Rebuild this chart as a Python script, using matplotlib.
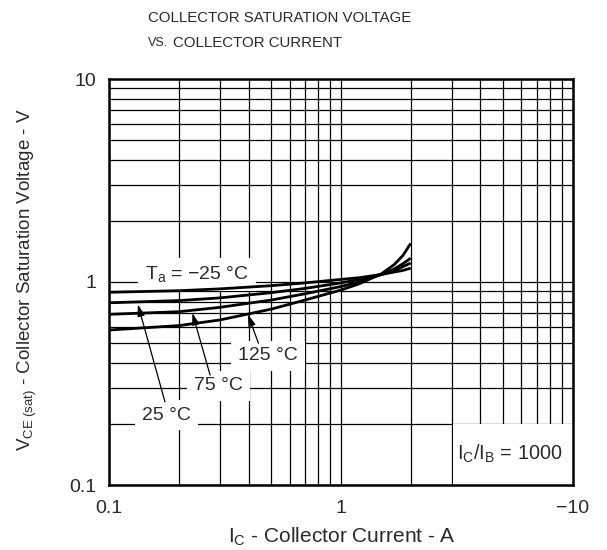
import matplotlib
matplotlib.use("Agg")
import matplotlib.pyplot as plt
from matplotlib.ticker import LogLocator, NullFormatter, FixedLocator
from matplotlib.patches import Rectangle

plt.rcParams['font.family'] = ['Liberation Sans', 'DejaVu Sans']
plt.rcParams['mathtext.fontset'] = 'custom'
plt.rcParams['mathtext.rm'] = 'Liberation Sans'
plt.rcParams['mathtext.it'] = 'Liberation Sans'

# Collector current (A)
ic = [0.1, 0.2, 0.3, 0.5, 0.7, 1.0, 1.2, 1.5, 1.7, 1.85, 2.0]

# VCE(sat) (V) for each ambient temperature
vce_m25 = [0.89, 0.906, 0.925, 0.959, 0.99, 1.03, 1.05, 1.09, 1.12, 1.14, 1.17]
vce_25 = [0.79, 0.81, 0.835, 0.886, 0.93, 0.99, 1.03, 1.09, 1.14, 1.19, 1.24]
vce_75 = [0.693, 0.714, 0.75, 0.815, 0.875, 0.95, 1.00, 1.09, 1.16, 1.23, 1.31]
vce_125 = [0.58, 0.61, 0.65, 0.735, 0.815, 0.913, 0.98, 1.10, 1.22, 1.35, 1.55]

x_ticks = [0.1, 1, 10]
x_ticklabels = ['0.1', '1', '\u221210']
y_ticks = [0.1, 1, 10]
y_ticklabels = ['0.1', '1', '10']

TXT = '#2a2a2a'
W, H = 607, 550
fig = plt.figure(figsize=(W / 100, H / 100), dpi=100)
L, R, T, B = 109.2, 572.7, 79, 485
ax = fig.add_axes([L / W, 1 - B / H, (R - L) / W, (B - T) / H])
ax.set_xscale('log')
ax.set_yscale('log')
ax.set_xlim(0.1, 10)
ax.set_ylim(0.1, 10)

ax.xaxis.set_major_locator(FixedLocator(x_ticks))
ax.set_xticklabels(x_ticklabels)
ax.yaxis.set_major_locator(FixedLocator(y_ticks))
ax.set_yticklabels(y_ticklabels)
for axis in (ax.xaxis, ax.yaxis):
    axis.set_minor_locator(LogLocator(base=10, subs=range(2, 10)))
    axis.set_minor_formatter(NullFormatter())
ax.tick_params(which='both', length=0, labelsize=14, colors=TXT)
ax.tick_params(axis='x', pad=11)
ax.tick_params(axis='y', pad=9)
ax.grid(which='both', color='black', lw=0.9, zorder=1)
ax.set_axisbelow(True)
for s in ax.spines.values():
    s.set_linewidth(1.8)
    s.set_zorder(5)

# Clear area behind the IC/IB note
ax.add_patch(Rectangle((3.04, 0.1), 10 - 3.04, 0.2 - 0.1, facecolor='white',
                       edgecolor='none', zorder=2))

for v in (vce_m25, vce_25, vce_75, vce_125):
    ax.plot(ic, v, color='black', lw=2.0, zorder=4, solid_capstyle='butt')

box = dict(boxstyle='square,pad=0.35', facecolor='white', edgecolor='none')
fs = 14
ax.text(0.2387, 1.091, 'T$_{\\rm a}$ = \u221225 \u00b0C', ha='center', va='center',
        fontsize=fs, bbox=box, zorder=3, color=TXT)
ax.text(0.485, 0.432, '125 \u00b0C', ha='center', va='center', fontsize=fs,
        bbox=box, zorder=3, color=TXT)
ax.text(0.296, 0.308, '75 \u00b0C', ha='center', va='center', fontsize=fs,
        bbox=box, zorder=3, color=TXT)
ax.text(0.177, 0.221, '25 \u00b0C', ha='center', va='center', fontsize=fs,
        bbox=box, zorder=3, color=TXT)
ax.text(5.35, 0.142, 'I$_{\\rm C}$/I$_{\\rm B}$ = 1000', ha='center', va='center',
        fontsize=14.3, zorder=3, color=TXT)

arrow = dict(arrowstyle='-|>,head_length=0.7,head_width=0.22', color='black',
             lw=0.9, shrinkA=0, shrinkB=0)
ax.annotate('', xy=(0.133, 0.775), xytext=(0.174, 0.257), arrowprops=arrow, zorder=4)
ax.annotate('', xy=(0.2286, 0.703), xytext=(0.2725, 0.348), arrowprops=arrow, zorder=4)
ax.annotate('', xy=(0.3966, 0.693), xytext=(0.4406, 0.499), arrowprops=arrow, zorder=4)

# Title
fig.text(148 / W, 1 - 18 / H, 'COLLECTOR SATURATION VOLTAGE', ha='left', va='center',
         fontsize=10.8, color=TXT)
fig.text(148 / W, 1 - 43 / H, 'VS.', ha='left', va='center', fontsize=9,
         color=TXT)
fig.text(173 / W, 1 - 43 / H, 'COLLECTOR CURRENT', ha='left', va='center',
         fontsize=10.8, color=TXT)

fig.text(27 / W, 1 - 280 / H,
         'V$_{\\rm CE\\ (sat)}$ - Collector Saturation Voltage - V',
         rotation=90, ha='center', va='center', fontsize=13.5, color=TXT)
fig.text(342 / W, 1 - 537 / H, 'I$_{\\rm C}$ - Collector Current - A',
         ha='center', va='center', fontsize=15, color=TXT)

fig.savefig('out.png', dpi=100, facecolor='white')
